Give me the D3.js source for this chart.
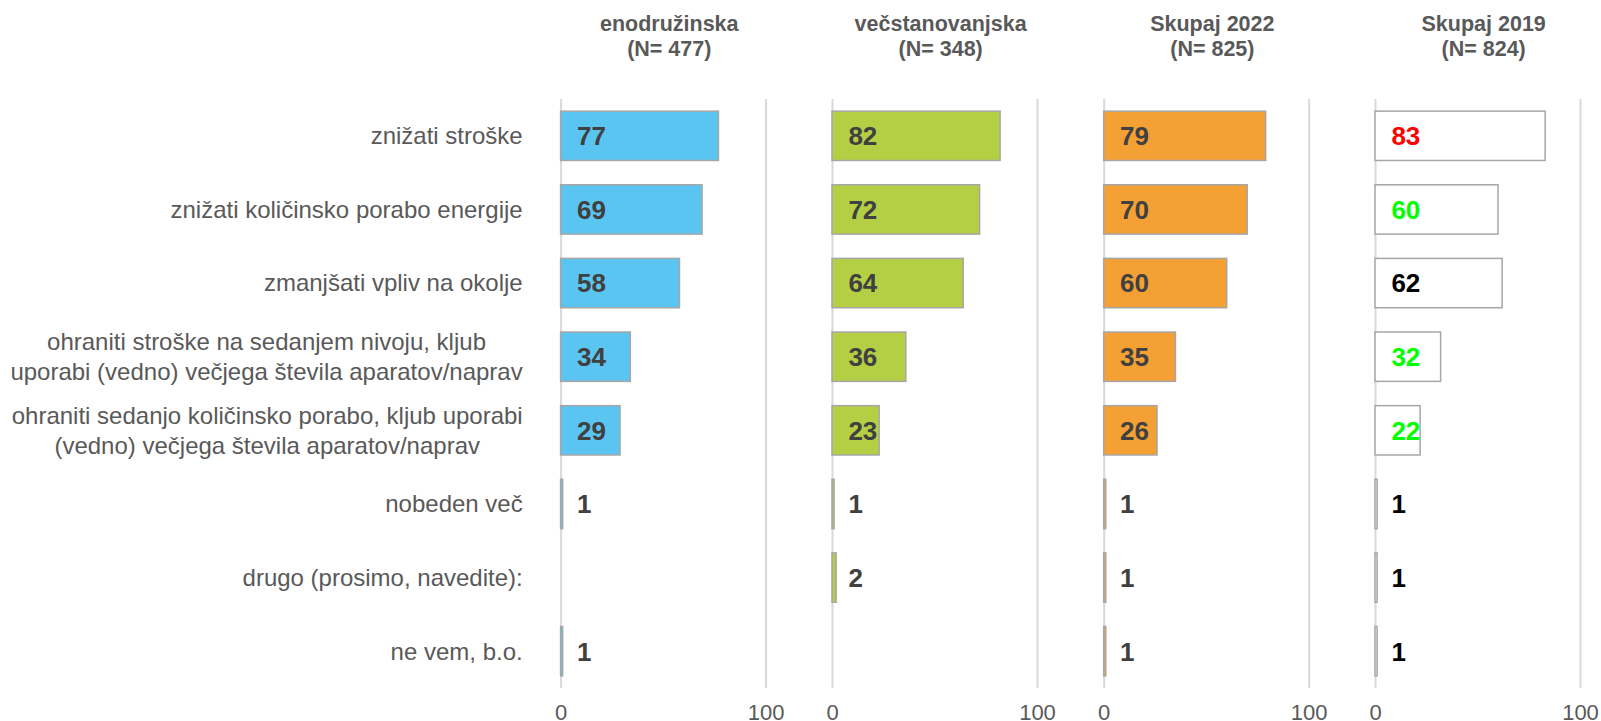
<!DOCTYPE html>
<html>
<head>
<meta charset="utf-8">
<script src="https://cdn.jsdelivr.net/npm/d3@7"></script>
<style>
  body { margin: 0; background: #fff; }
  svg { font-family: "Liberation Sans", Arial, sans-serif; }
</style>
</head>
<body>
<div class="chart"></div>
<script>
// kategorije (vrstice)
var categories = [
    ["znižati stroške"],
    ["znižati količinsko porabo energije"],
    ["zmanjšati vpliv na okolje"],
    ["ohraniti stroške na sedanjem nivoju, kljub", "uporabi (vedno) večjega števila aparatov/naprav"],
    ["ohraniti sedanjo količinsko porabo, kljub uporabi", "(vedno) večjega števila aparatov/naprav"],
    ["nobeden več"],
    ["drugo (prosimo, navedite):"],
    ["ne vem, b.o."]
];

var panelNames = ["enodružinska", "večstanovanjska", "Skupaj 2022", "Skupaj 2019"];
var panelN = [477, 348, 825, 824];

var enodruzinska = [77, 69, 58, 34, 29, 1, 0, 1];
var vecstanovanjska = [82, 72, 64, 36, 23, 1, 2, 0];
var skupaj2022 = [79, 70, 60, 35, 26, 1, 1, 1];
var skupaj2019 = [83, 60, 62, 32, 22, 1, 1, 1];

// barve oznak za 2019 (primerjava)
var labelColors2019 = ["#ff0000", "#00ff00", "#000000", "#00ff00", "#00ff00", "#000000", "#000000", "#000000"];

var tickValues = [0, 100];

var width = 1601;
var height = 721;
var plotTop = 99;
var plotBottom = 688;
var panelLeft = [560.6, 832, 1103.7, 1375];
var panelWidth = 205;
var labelRight = 522.7;

var panels = [
    { values: enodruzinska, fill: "#5bc5f2", labelColors: null },
    { values: vecstanovanjska, fill: "#b5cf45", labelColors: null },
    { values: skupaj2022, fill: "#f4a035", labelColors: null },
    { values: skupaj2019, fill: "#ffffff", labelColors: labelColors2019 }
];

var svg = d3.select(".chart")
    .append("svg")
    .attr("width", width)
    .attr("height", height);

var y = d3.scaleBand()
    .domain(d3.range(categories.length))
    .range([plotTop, plotBottom])
    .paddingInner(0.33)
    .paddingOuter(0.165);

// oznake kategorij
var catText = svg.append("g")
    .selectAll("text")
    .data(categories)
    .enter()
    .append("text")
    .attr("text-anchor", "middle")
    .attr("font-size", 24)
    .attr("fill", "#595959");

catText.each(function (lines, i) {
    var t = d3.select(this);
    var lh = 29.6;
    var cy = y(i) + y.bandwidth() / 2;
    lines.forEach(function (line, j) {
        t.append("tspan")
            .attr("x", 0)
            .attr("y", cy + (j - (lines.length - 1) / 2) * lh)
            .attr("dy", "0.35em")
            .text(line);
    });
    var w = this.getBBox().width;
    t.selectAll("tspan").attr("x", labelRight - w / 2);
});

panels.forEach(function (p, k) {
    var x = d3.scaleLinear()
        .domain([0, 100])
        .range([panelLeft[k], panelLeft[k] + panelWidth]);

    var rows = p.values.map(function (v, i) {
        return { value: v, row: i };
    });

    var g = svg.append("g");

    // mreža + oznake osi
    var axis = g.append("g")
        .attr("transform", "translate(0," + plotBottom + ")")
        .call(d3.axisBottom(x)
            .tickValues(tickValues)
            .tickSizeInner(-(plotBottom - plotTop))
            .tickSizeOuter(0)
            .tickPadding(16));
    axis.select(".domain").remove();
    axis.selectAll(".tick line")
        .attr("stroke", "#d9d9d9")
        .attr("stroke-width", 2);
    axis.selectAll(".tick text")
        .attr("font-size", 22)
        .attr("font-family", "Liberation Sans, Arial, sans-serif")
        .attr("fill", "#595959");

    // naslov
    var title = g.append("text")
        .attr("text-anchor", "middle")
        .attr("font-size", 21.5)
        .attr("font-weight", "bold")
        .attr("fill", "#595959");
    title.append("tspan")
        .attr("x", x(53))
        .attr("y", 30.5)
        .text(panelNames[k]);
    title.append("tspan")
        .attr("x", x(53))
        .attr("y", 55.5)
        .text("(N= " + panelN[k] + ")");

    // stolpci
    g.selectAll("rect")
        .data(rows)
        .enter()
        .append("rect")
        .attr("x", x(0))
        .attr("y", function (d) { return y(d.row); })
        .attr("width", function (d) { return x(d.value) - x(0); })
        .attr("height", y.bandwidth())
        .attr("fill", p.fill)
        .attr("stroke", "#a6a6a6")
        .attr("stroke-width", 1.5);

    // vrednosti
    g.selectAll(".val")
        .data(rows.filter(function (d) { return d.value > 0; }))
        .enter()
        .append("text")
        .classed("val", true)
        .attr("x", x(0) + 16.4)
        .attr("y", function (d) { return y(d.row) + y.bandwidth() / 2; })
        .attr("dy", "0.36em")
        .attr("font-size", 26)
        .attr("font-weight", "bold")
        .attr("fill", function (d) {
            return p.labelColors ? p.labelColors[d.row] : "#404040";
        })
        .text(function (d) { return d.value; });
});
</script>
</body>
</html>
